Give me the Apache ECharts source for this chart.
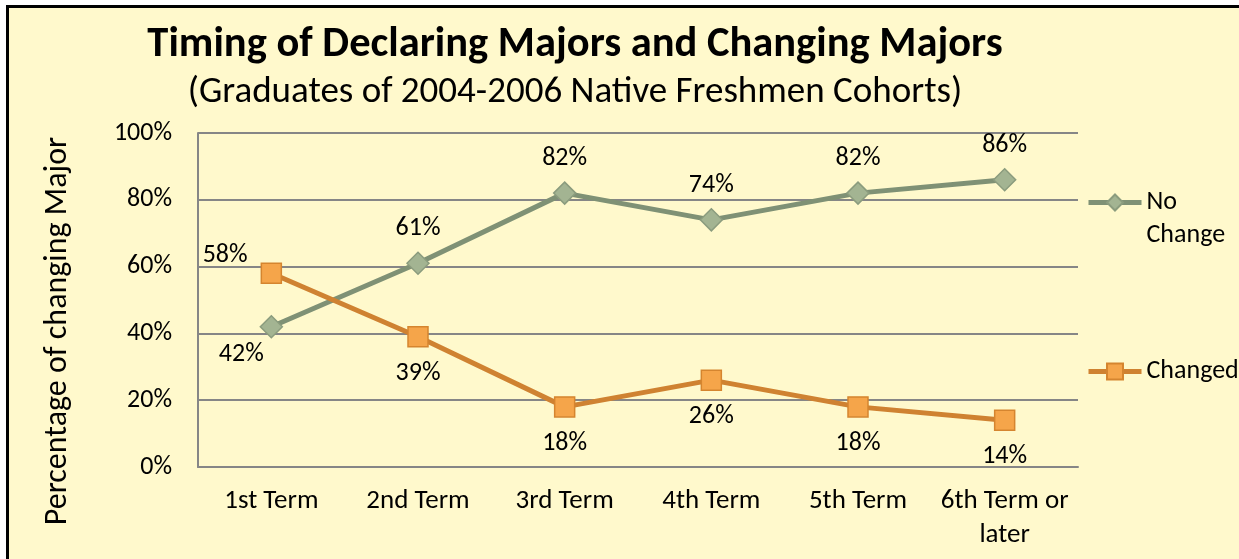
<!DOCTYPE html>
<html>
<head>
<meta charset="utf-8">
<script src="https://cdn.jsdelivr.net/npm/echarts@6/dist/echarts.min.js"></script>
<style>
    body { margin: 0; background: #ffffff; overflow: hidden; }
    #frame {
        position: absolute; left: 6px; top: 5px;
        width: 1400px; height: 700px;
        border: 3px solid #000000;
        background: #FFF9CC;
    }
    #chart { position: absolute; left: 0; top: 0; width: 1239px; height: 559px; }
</style>
</head>
<body>
<div id="frame"></div>
<div id="chart"></div>
<script>
// 数据
const terms = ['1st Term', '2nd Term', '3rd Term', '4th Term', '5th Term', '6th Term or\nlater'];
const noChange = [42, 61, 82, 74, 82, 86];
const changed = [58, 39, 18, 26, 18, 14];
const yTicks = [0, 20, 40, 60, 80, 100];

const FONT = 'Carlito, Lato, "Open Sans", sans-serif';

// 初始化图表
const chart = echarts.init(document.getElementById('chart'));

// 第一个点的标签位置特殊处理
const noChangeData = noChange.map((v, i) => {
    if (i === 0) {
        return { value: v, label: { position: 'bottom', distance: 3, offset: [-30, 0] } };
    }
    return v;
});
const changedData = changed.map((v, i) => {
    if (i === 0) {
        return { value: v, label: { position: 'left', distance: 13, offset: [0, -18] } };
    }
    return v;
});

const option = {
    backgroundColor: 'transparent',
    textStyle: { fontFamily: FONT, color: '#000' },
    title: [{
        text: 'Timing of Declaring Majors and Changing Majors',
        left: 570,
        top: 19,
        textAlign: 'center',
        textStyle: { fontFamily: FONT, fontSize: 42.5, fontWeight: 'bold', color: '#000' }
    }, {
        text: '(Graduates of 2004-2006 Native Freshmen Cohorts)',
        left: 570,
        top: 69,
        textAlign: 'center',
        textStyle: { fontFamily: FONT, fontSize: 37, fontWeight: 'normal', color: '#000' }
    }],
    legend: [{
        data: ['No Change'],
        left: 1086,
        top: 153,
        padding: 0,
        itemWidth: 53,
        itemHeight: 20,
        lineStyle: { width: 5 },
        formatter: () => '\nNo\nChange',
        textStyle: { fontFamily: FONT, fontSize: 26, lineHeight: 33, color: '#000' }
    }, {
        data: ['Changed'],
        left: 1086,
        top: 355,
        padding: 0,
        itemWidth: 53,
        itemHeight: 20,
        lineStyle: { width: 5 },
        textStyle: { fontFamily: FONT, fontSize: 26, lineHeight: 33, color: '#000' }
    }],
    grid: { left: 198, right: 161, top: 133, bottom: 92 },
    xAxis: {
        type: 'category',
        data: terms,
        boundaryGap: true,
        axisLine: { lineStyle: { color: '#868686', width: 2 } },
        axisTick: { show: false },
        axisLabel: { fontFamily: FONT, fontSize: 27, color: '#000', margin: 17, lineHeight: 34, interval: 0 }
    },
    yAxis: {
        type: 'value',
        min: yTicks[0],
        max: yTicks[yTicks.length - 1],
        interval: 20,
        name: 'Percentage of changing Major',
        nameLocation: 'middle',
        nameGap: 124,
        nameTextStyle: { fontFamily: FONT, fontSize: 32, color: '#000', padding: [0, 62, 0, 0] },
        axisLine: { show: true, lineStyle: { color: '#868686', width: 2 } },
        axisTick: { show: false },
        splitLine: { lineStyle: { color: '#868686', width: 2 } },
        axisLabel: { fontFamily: FONT, fontSize: 26, color: '#000', margin: 26, formatter: '{value}%' }
    },
    series: [{
        name: 'No Change',
        type: 'line',
        data: noChangeData,
        symbol: 'diamond',
        symbolSize: 22,
        lineStyle: { color: '#7F9175', width: 5 },
        itemStyle: { color: '#A3B492', borderColor: '#8B9C7E', borderWidth: 1.5 },
        label: {
            show: true, position: 'top', distance: 10,
            fontFamily: FONT, fontSize: 26, color: '#000', formatter: '{c}%'
        }
    }, {
        name: 'Changed',
        type: 'line',
        data: changedData,
        symbol: 'rect',
        symbolSize: 20,
        lineStyle: { color: '#CF8231', width: 5 },
        itemStyle: { color: '#F5A54A', borderColor: '#D5852F', borderWidth: 1.5 },
        label: {
            show: true, position: 'bottom', distance: 13,
            fontFamily: FONT, fontSize: 26, color: '#000', formatter: '{c}%'
        }
    }]
};

chart.setOption(option);
</script>
</body>
</html>
